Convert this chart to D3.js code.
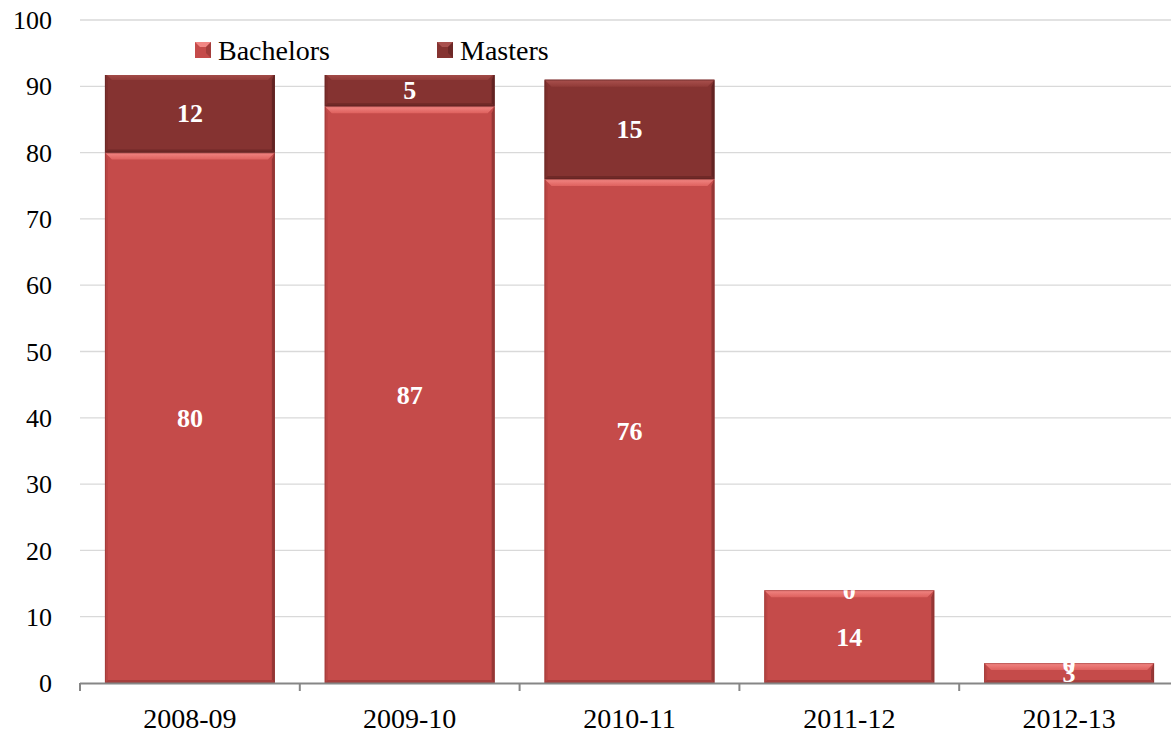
<!DOCTYPE html>
<html>
<head>
<meta charset="utf-8">
<script src="https://cdn.jsdelivr.net/npm/d3@7"></script>
<style>
  html, body { margin: 0; padding: 0; background: #fff; }
  svg { display: block; }
  text { font-family: "Liberation Serif", "Times New Roman", serif; }
</style>
</head>
<body>
<svg id="chart" width="1171" height="736"></svg>
<script>
// ---- data ----
const categories = ["2008-09", "2009-10", "2010-11", "2011-12", "2012-13"];
const bachelors = [80, 87, 76, 14, 3];
const masters = [12, 5, 15, 0, 0];
const seriesNames = ["Bachelors", "Masters"];
const yTicks = [0, 10, 20, 30, 40, 50, 60, 70, 80, 90, 100];

// ---- styles ----
const colors = {
  Bachelors: { base: "#C54B4A", top1: "#F28784", top2: "#DE615E", side: "#B54442", right: "#8E3432", bottom: "#9E3B39" },
  Masters:   { base: "#853331", top1: "#A9514E", top2: "#913B38", side: "#7A2E2C", right: "#5E2221", bottom: "#6A2725" }
};

const svg = d3.select("#chart");
const W = 1171, H = 736;
const plot = { left: 80, right: 1179, top: 20, bottom: 683 };

const x = d3.scaleBand().domain(categories).range([plot.left, plot.right]).paddingInner(0.227).paddingOuter(0.1135);
const y = d3.scaleLinear().domain([0, 100]).range([plot.bottom, plot.top]);

const defs = svg.append("defs");
seriesNames.forEach(s => {
  const g = defs.append("linearGradient").attr("id", "top-" + s).attr("x1", 0).attr("x2", 0).attr("y1", 0).attr("y2", 1);
  g.append("stop").attr("offset", "0%").attr("stop-color", colors[s].top1);
  g.append("stop").attr("offset", "100%").attr("stop-color", colors[s].top2);
});
defs.append("clipPath").attr("id", "plotClip").append("rect")
  .attr("x", 0).attr("y", 75).attr("width", W).attr("height", plot.bottom - 75);

// gridlines
svg.append("g").selectAll("line").data(yTicks.filter(d => d > 0)).join("line")
  .attr("x1", plot.left).attr("x2", W)
  .attr("y1", d => y(d)).attr("y2", d => y(d))
  .attr("stroke", "#D9D9D9").attr("stroke-width", 1.3);

// y tick labels
svg.append("g").selectAll("text").data(yTicks).join("text")
  .attr("x", 52).attr("y", d => y(d)).attr("dy", "0.35em")
  .attr("text-anchor", "end").attr("font-size", 26).attr("fill", "#000")
  .text(d => d);

// stacked data
const rows = categories.map((c, i) => ({ cat: c, Bachelors: bachelors[i], Masters: masters[i] }));
const stack = d3.stack().keys(seriesNames)(rows);

const segs = [];
stack.forEach(layer => {
  layer.forEach((d, i) => {
    segs.push({ series: layer.key, cat: categories[i], y0: d[0], y1: d[1], value: d[1] - d[0] });
  });
});

// bars with bevel
const barsG = svg.append("g").attr("clip-path", "url(#plotClip)");
segs.filter(s => s.value > 0).forEach(s => {
  const c = colors[s.series];
  const x0 = x(s.cat), w = x.bandwidth();
  const yt = y(s.y1), yb = y(s.y0), h = yb - yt;
  const d = Math.min(7, h / 2);
  const g = barsG.append("g");
  g.append("rect").attr("x", x0).attr("y", yt).attr("width", w).attr("height", h).attr("fill", c.base);
  // left side
  g.append("polygon").attr("points", [[x0, yt], [x0 + 3, yt + d], [x0 + 3, yb - 3], [x0, yb]].join(" ")).attr("fill", c.side).attr("opacity", 0.8);
  // right side
  g.append("polygon").attr("points", [[x0 + w, yt], [x0 + w - 3, yt + d], [x0 + w - 3, yb - 3], [x0 + w, yb]].join(" ")).attr("fill", c.right).attr("opacity", 0.85);
  // bottom
  g.append("polygon").attr("points", [[x0, yb], [x0 + 3, yb - 3], [x0 + w - 3, yb - 3], [x0 + w, yb]].join(" ")).attr("fill", c.bottom).attr("opacity", 0.8);
  // top highlight
  g.append("polygon").attr("points", [[x0, yt], [x0 + w, yt], [x0 + w - d, yt + d], [x0 + d, yt + d]].join(" ")).attr("fill", "url(#top-" + s.series + ")");
  g.append("rect").attr("x", x0 + 0.5).attr("y", yt + 0.5).attr("width", w - 1).attr("height", Math.max(0, h - 1))
    .attr("fill", "none").attr("stroke", c.right).attr("stroke-opacity", 0.5).attr("stroke-width", 1);
});

// clip for labels: union of bars
const labelClip = defs.append("clipPath").attr("id", "labelClip");
segs.filter(s => s.value > 0).forEach(s => {
  labelClip.append("rect").attr("x", x(s.cat)).attr("y", Math.max(75, y(s.y1)))
    .attr("width", x.bandwidth()).attr("height", y(s.y0) - Math.max(75, y(s.y1)));
});

svg.append("g").attr("clip-path", "url(#labelClip)").selectAll("text").data(segs).join("text")
  .attr("x", s => x(s.cat) + x.bandwidth() / 2)
  .attr("y", s => y((s.y0 + s.y1) / 2)).attr("dy", "0.35em")
  .attr("text-anchor", "middle").attr("font-size", 26).attr("font-weight", "bold").attr("fill", "#fff")
  .text(s => s.value);

// x axis
const axisG = svg.append("g");
axisG.append("line").attr("x1", plot.left).attr("x2", W).attr("y1", plot.bottom + 0.5).attr("y2", plot.bottom + 0.5)
  .attr("stroke", "#868686").attr("stroke-width", 2);
const boundaries = d3.range(categories.length + 1).map(i => plot.left + i * x.step());
axisG.selectAll("line.tick").data(boundaries.filter(b => b < W)).join("line").attr("class", "tick")
  .attr("x1", b => b).attr("x2", b => b).attr("y1", plot.bottom).attr("y2", plot.bottom + 8)
  .attr("stroke", "#868686").attr("stroke-width", 2);
axisG.selectAll("text").data(categories).join("text")
  .attr("x", c => x(c) + x.bandwidth() / 2).attr("y", 718).attr("dy", "0.35em")
  .attr("text-anchor", "middle").attr("font-size", 28).attr("fill", "#000")
  .text(c => c);

// legend
const legendPos = { Bachelors: 195, Masters: 437 };
const lg = svg.append("g");
seriesNames.forEach(s => {
  const c = colors[s];
  const lx = legendPos[s], ly = 42, sz = 16, d = 5;
  const g = lg.append("g");
  g.append("rect").attr("x", lx).attr("y", ly).attr("width", sz).attr("height", sz).attr("fill", c.base);
  g.append("polygon").attr("points", [[lx, ly], [lx + sz, ly], [lx + sz - d, ly + d], [lx + d, ly + d]].join(" ")).attr("fill", c.top1);
  g.append("polygon").attr("points", [[lx + sz, ly], [lx + sz, ly + sz], [lx + sz - d, ly + sz - d], [lx + sz - d, ly + d]].join(" ")).attr("fill", c.right).attr("opacity", 0.6);
  g.append("text").attr("x", lx + 23).attr("y", 50).attr("dy", "0.35em")
    .attr("font-size", 28).attr("fill", "#000").text(s);
});
</script>
</body>
</html>
